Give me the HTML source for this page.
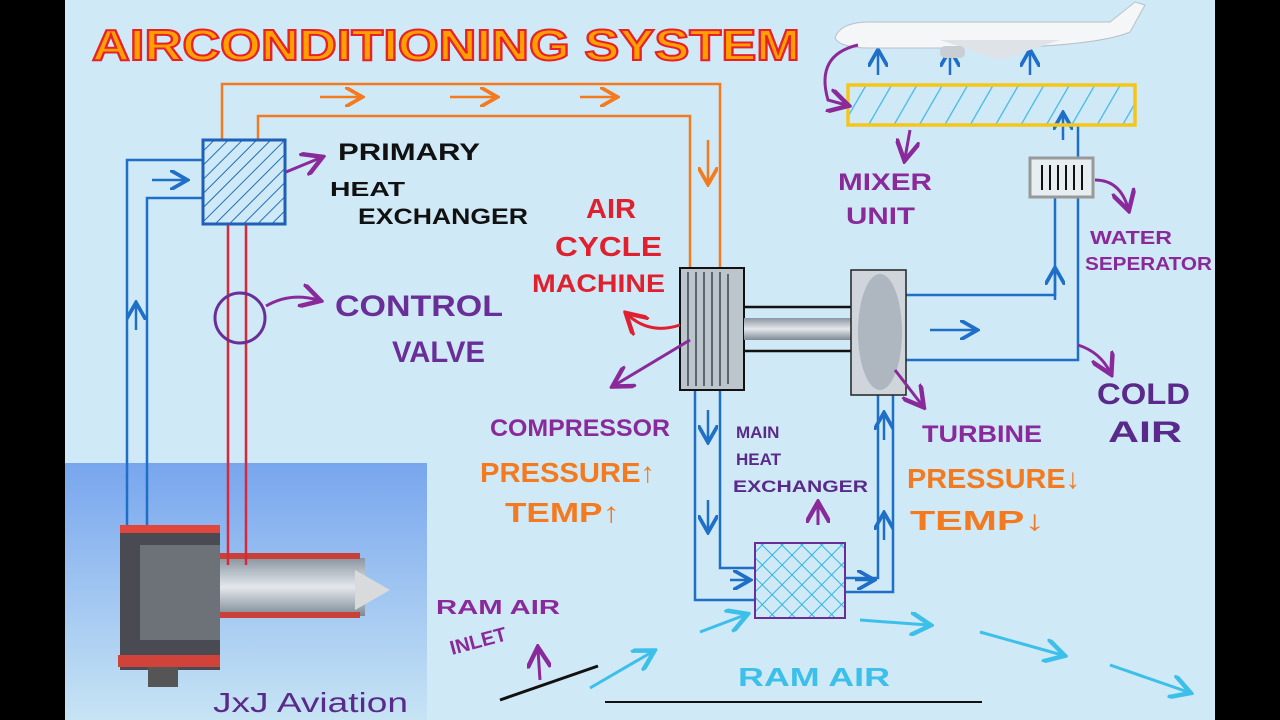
<!DOCTYPE html>
<html><head><meta charset="utf-8"><style>
body{margin:0;width:1280px;height:720px;overflow:hidden;background:#000}
svg{display:block}
text{font-family:"Liberation Sans",sans-serif}
</style></head><body>
<svg width="1280" height="720" viewBox="0 0 1280 720" xmlns="http://www.w3.org/2000/svg">
<defs>
<linearGradient id="eg" x1="0" y1="0" x2="0" y2="1"><stop offset="0" stop-color="#78a6ee"/><stop offset="1" stop-color="#c7e4f4"/></linearGradient>
<pattern id="hatch" width="10" height="10" patternUnits="userSpaceOnUse" patternTransform="rotate(45)"><line x1="0" y1="0" x2="0" y2="10" stroke="#1f6fc0" stroke-width="2"/></pattern>
<pattern id="hatch2" width="22" height="22" patternUnits="userSpaceOnUse" patternTransform="rotate(30)"><line x1="0" y1="0" x2="0" y2="22" stroke="#40b8e8" stroke-width="2.5"/></pattern>
<pattern id="cross" width="14" height="14" patternUnits="userSpaceOnUse" patternTransform="rotate(45)"><path d="M0 0V14M0 0H14" stroke="#30b4e8" stroke-width="2"/></pattern>
<marker id="a" markerWidth="8" markerHeight="8" refX="6" refY="4" orient="auto"><path d="M0,0 L7,4 L0,8" fill="none" stroke="context-stroke" stroke-width="1.5"/></marker>
<linearGradient id="mg" x1="0" y1="0" x2="0" y2="1"><stop offset="0" stop-color="#8a96a2"/><stop offset=".5" stop-color="#e4e8ec"/><stop offset="1" stop-color="#7d8994"/></linearGradient>
</defs>
<rect x="65" y="0" width="1150" height="720" fill="#cfe9f6"/>
<rect x="65" y="463" width="362" height="257" fill="url(#eg)"/>
<!-- engine -->
<g>
<rect x="120" y="525" width="100" height="145" fill="#4a4a52"/>
<rect x="120" y="525" width="100" height="8" fill="#e0463c"/>
<rect x="118" y="655" width="102" height="12" fill="#d0423a"/>
<rect x="148" y="667" width="30" height="20" fill="#555"/>
<rect x="215" y="558" width="150" height="58" fill="url(#mg)"/>
<rect x="220" y="553" width="140" height="6" fill="#c84038"/>
<rect x="220" y="612" width="140" height="6" fill="#c84038"/>
<path d="M355 570 L390 590 L355 610Z" fill="#d8dadc"/>
<rect x="140" y="545" width="80" height="95" fill="#6d7278"/>
</g>
<!-- orange lines -->
<g fill="none" stroke="#f47a20" stroke-width="2.5">
<path d="M222 140V84H720V270"/>
<path d="M258 140V116H690V270"/>
<path d="M320 97H360" marker-end="url(#a)"/>
<path d="M450 97H495" marker-end="url(#a)"/>
<path d="M580 97H615" marker-end="url(#a)"/>
<path d="M708 140V182" marker-end="url(#a)"/>
</g>
<!-- blue lines -->
<g fill="none" stroke="#1f6fc8" stroke-width="2.5">
<path d="M203 160H127V525"/>
<path d="M203 198H147V525"/>
<path d="M152 180H185" marker-end="url(#a)"/>
<path d="M136 330V305" marker-end="url(#a)"/>
<path d="M695 390V600H755"/>
<path d="M720 390V568H755"/>
<path d="M845 578H878V395"/>
<path d="M845 592H893V395"/>
<path d="M906 295H1055V197"/>
<path d="M906 360H1078V125"/>
<path d="M708 410V440" marker-end="url(#a)"/>
<path d="M708 500V530" marker-end="url(#a)"/>
<path d="M730 580H748" marker-end="url(#a)"/>
<path d="M855 580H872" marker-end="url(#a)"/>
<path d="M884 540V515" marker-end="url(#a)"/>
<path d="M884 440V415" marker-end="url(#a)"/>
<path d="M930 330H975" marker-end="url(#a)"/>
<path d="M1055 300V270" marker-end="url(#a)"/>
<path d="M1063 140V115" marker-end="url(#a)"/>
<path d="M878 75V52" marker-end="url(#a)"/>
<path d="M950 75V52" marker-end="url(#a)"/>
<path d="M1030 75V52" marker-end="url(#a)"/>
</g>
<!-- red lines -->
<g stroke="#d8283a" stroke-width="2.5"><line x1="228" y1="224" x2="228" y2="565"/><line x1="246" y1="224" x2="246" y2="565"/></g>
<!-- primary HX -->
<rect x="203" y="140" width="82" height="84" fill="url(#hatch)" stroke="#1f5fb8" stroke-width="3"/>
<!-- control valve -->
<circle cx="240" cy="318" r="25" fill="none" stroke="#6a2e98" stroke-width="3"/>
<!-- ACM -->
<rect x="680" y="268" width="64" height="122" fill="#bcc4cc" stroke="#111" stroke-width="2"/>
<g stroke="#5b6570" stroke-width="2">
<line x1="688" y1="272" x2="688" y2="386"/><line x1="696" y1="272" x2="696" y2="386"/><line x1="704" y1="272" x2="704" y2="386"/><line x1="712" y1="272" x2="712" y2="386"/><line x1="720" y1="272" x2="720" y2="386"/><line x1="728" y1="274" x2="728" y2="384"/>
</g>
<line x1="744" y1="307" x2="851" y2="307" stroke="#111" stroke-width="2.5"/>
<line x1="744" y1="351" x2="851" y2="351" stroke="#111" stroke-width="2.5"/>
<rect x="744" y="318" width="107" height="22" fill="url(#mg)"/>
<rect x="851" y="270" width="55" height="125" fill="#cfd5db" stroke="#222" stroke-width="1.5"/>
<ellipse cx="880" cy="332" rx="22" ry="58" fill="#aeb7c0"/>
<!-- main HX -->
<rect x="755" y="543" width="90" height="75" fill="url(#cross)" stroke="#6a2e98" stroke-width="2"/>
<!-- mixer -->
<rect x="848" y="85" width="287" height="40" fill="url(#hatch2)" stroke="#f5c518" stroke-width="3.5"/>
<!-- water sep -->
<rect x="1030" y="158" width="63" height="39" fill="#e6eef2" stroke="#999" stroke-width="3"/>
<g stroke="#111" stroke-width="2"><line x1="1042" y1="165" x2="1042" y2="190"/><line x1="1050" y1="165" x2="1050" y2="190"/><line x1="1058" y1="165" x2="1058" y2="190"/><line x1="1066" y1="165" x2="1066" y2="190"/><line x1="1074" y1="165" x2="1074" y2="190"/><line x1="1082" y1="165" x2="1082" y2="190"/></g>
<!-- plane -->
<g>
<path d="M835 38 Q840 22 870 22 L1110 22 L1135 2 L1145 5 L1130 32 Q1100 45 1000 48 L870 48 Q840 48 835 38Z" fill="#f4f6f8" stroke="#b8c0c8"/>
<path d="M940 40 L1060 40 L1000 60Z" fill="#dfe3e7"/>
<rect x="940" y="46" width="25" height="12" rx="5" fill="#c8ced4"/>
</g>
<!-- purple / red / misc arrows -->
<g fill="none" stroke="#8a2a9a" stroke-width="3">
<path d="M286 172 L320 158" marker-end="url(#a)"/>
<path d="M266 306 Q290 292 318 300" marker-end="url(#a)"/>
<path d="M690 340 L615 385" marker-end="url(#a)"/>
<path d="M895 370 L922 405" marker-end="url(#a)"/>
<path d="M1078 345 Q1100 352 1110 372" marker-end="url(#a)"/>
<path d="M910 130 L905 158" marker-end="url(#a)"/>
<path d="M1095 180 Q1120 180 1128 208" marker-end="url(#a)"/>
<path d="M858 45 Q815 55 828 100 L846 105" marker-end="url(#a)"/>
<path d="M818 525 V505" marker-end="url(#a)"/>
<path d="M540 680 L538 650" marker-end="url(#a)"/>
</g>
<path d="M680 325 Q650 335 628 315" fill="none" stroke="#e02030" stroke-width="3" marker-end="url(#a)"/>
<!-- ram air -->
<line x1="500" y1="700" x2="598" y2="666" stroke="#111" stroke-width="3"/>
<line x1="605" y1="702" x2="982" y2="702" stroke="#111" stroke-width="2"/>
<g fill="none" stroke="#3cbfe8" stroke-width="3">
<path d="M590 688 L652 652" marker-end="url(#a)"/>
<path d="M700 632 L745 615" marker-end="url(#a)"/>
<path d="M860 620 L928 625" marker-end="url(#a)"/>
<path d="M980 632 L1062 655" marker-end="url(#a)"/>
<path d="M1110 665 L1188 692" marker-end="url(#a)"/>
</g>
<!-- text -->
<text x="92" y="60" font-size="44" font-weight="bold" fill="#ffa000" stroke="#e8202a" stroke-width="2" textLength="708" lengthAdjust="spacingAndGlyphs">AIRCONDITIONING SYSTEM</text>
<g fill="#111" font-size="24" font-weight="bold">
<text x="338" y="160" textLength="142" lengthAdjust="spacingAndGlyphs">PRIMARY</text>
<text x="330" y="196" font-size="20" textLength="75" lengthAdjust="spacingAndGlyphs">HEAT</text>
<text x="358" y="224" font-size="22" textLength="170" lengthAdjust="spacingAndGlyphs">EXCHANGER</text>
</g>
<g fill="#6a2e98" font-size="30" font-weight="bold">
<text x="335" y="316" textLength="168" lengthAdjust="spacingAndGlyphs">CONTROL</text>
<text x="392" y="362" textLength="93" lengthAdjust="spacingAndGlyphs">VALVE</text>
</g>
<g fill="#e0202e" font-size="28" font-weight="bold">
<text x="586" y="218" textLength="50" lengthAdjust="spacingAndGlyphs">AIR</text>
<text x="555" y="256" textLength="107" lengthAdjust="spacingAndGlyphs">CYCLE</text>
<text x="532" y="292" font-size="25" textLength="133" lengthAdjust="spacingAndGlyphs">MACHINE</text>
</g>
<g fill="#8a2a9a" font-size="24" font-weight="bold">
<text x="490" y="436" textLength="180" lengthAdjust="spacingAndGlyphs">COMPRESSOR</text>
<text x="922" y="442" textLength="120" lengthAdjust="spacingAndGlyphs">TURBINE</text>
<text x="838" y="190" textLength="94" lengthAdjust="spacingAndGlyphs">MIXER</text>
<text x="846" y="224" textLength="69" lengthAdjust="spacingAndGlyphs">UNIT</text>
<text x="1090" y="244" font-size="18" textLength="82" lengthAdjust="spacingAndGlyphs">WATER</text>
<text x="1085" y="270" font-size="18" textLength="127" lengthAdjust="spacingAndGlyphs">SEPERATOR</text>
<text x="436" y="614" font-size="20" textLength="124" lengthAdjust="spacingAndGlyphs">RAM AIR</text>
<text x="450" y="650" font-size="20" transform="rotate(-15 470 645)">INLET</text>
</g>
<g fill="#5a2a8a" font-size="30" font-weight="bold"><text x="1097" y="404" textLength="93" lengthAdjust="spacingAndGlyphs">COLD</text><text x="1108" y="442" textLength="74" lengthAdjust="spacingAndGlyphs">AIR</text></g>
<g fill="#5a2a8a" font-size="17" font-weight="bold"><text x="736" y="438">MAIN</text><text x="736" y="465">HEAT</text><text x="733" y="492" textLength="135" lengthAdjust="spacingAndGlyphs">EXCHANGER</text></g>
<g fill="#f47a20" font-size="28" font-weight="bold">
<text x="480" y="482" textLength="175" lengthAdjust="spacingAndGlyphs">PRESSURE↑</text>
<text x="505" y="522" textLength="115" lengthAdjust="spacingAndGlyphs">TEMP↑</text>
<text x="907" y="488" textLength="173" lengthAdjust="spacingAndGlyphs">PRESSURE↓</text>
<text x="910" y="530" textLength="135" lengthAdjust="spacingAndGlyphs">TEMP↓</text>
</g>
<text x="738" y="686" fill="#3cbfe8" font-size="26" font-weight="bold" textLength="152" lengthAdjust="spacingAndGlyphs">RAM AIR</text>
<text x="213" y="712" fill="#5a2a8a" font-size="28" textLength="195" lengthAdjust="spacingAndGlyphs">JxJ Aviation</text>
</svg>
</body></html>
